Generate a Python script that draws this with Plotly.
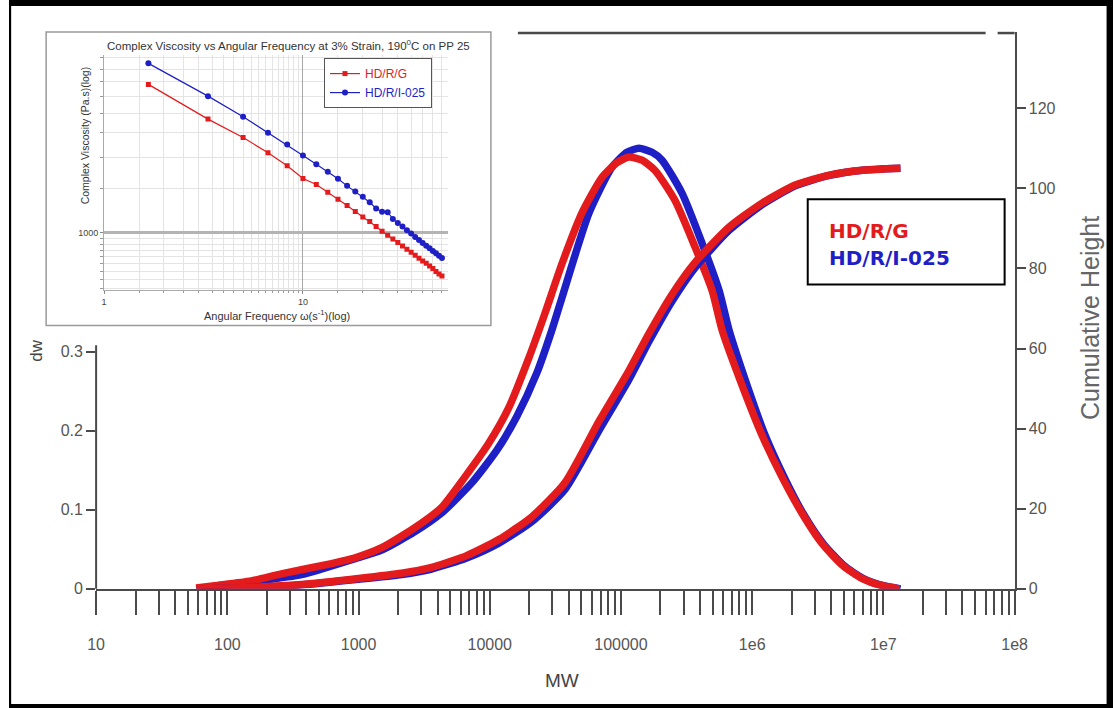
import plotly.graph_objects as go

# Layout is designed in screen pixels of the 1113 x 708 page; the helpers below map
# those positions onto the figure, which sits inside the page body margin.
SX, SY = 0.981, 0.986
M = 8
W = round(1113 / SX - M)
H = round(708 / SY)


def px(x):
    return (x / SX - M) / W


def py(y):
    return 1 - (y / SY) / H


RED = "#e41b1d"
BLUE = "#1f1fc6"
AXIS = "#4a4a4a"
SANS = "Liberation Sans, Arial, sans-serif"

# ---------------- molecular weight distribution ----------------
mw_dw_red = [58, 80, 152, 258, 622, 931, 1500, 2670, 4300, 6440, 9820, 13960, 19860,
             26300, 35500, 50350, 71600, 93100, 115100, 144500, 182000, 258200, 367300,
             495500, 590200, 839500, 1191000, 1694000, 2410000, 3420000, 4864000,
             6918000, 9817000, 13240000]
dw_red = [0.001, 0.004, 0.010, 0.019, 0.032, 0.039, 0.052, 0.077, 0.103, 0.141, 0.184,
          0.229, 0.292, 0.348, 0.411, 0.475, 0.520, 0.539, 0.546, 0.542, 0.529, 0.491,
          0.432, 0.377, 0.327, 0.257, 0.194, 0.141, 0.095, 0.057, 0.030, 0.013, 0.004,
          0.000]

mw_dw_blue = [58, 152, 367, 931, 1500, 2670, 4300, 7290, 11300, 16070, 22860, 29720,
              35480, 57020, 85310, 111200, 137100, 172600, 205600, 292400, 415000,
              559800, 666800, 916200, 1256000, 1754000, 2449000, 3483000, 4955000,
              7031000, 10000000, 13490000]
dw_blue = [0.000, 0.009, 0.018, 0.038, 0.049, 0.072, 0.096, 0.134, 0.175, 0.218, 0.273,
           0.327, 0.368, 0.475, 0.533, 0.552, 0.557, 0.552, 0.542, 0.500, 0.437, 0.377,
           0.327, 0.257, 0.194, 0.141, 0.095, 0.057, 0.030, 0.013, 0.004, 0.000]

mw_cum = [63, 152, 367, 1000, 2128, 3548, 6668, 11720, 20940, 37410, 67920, 115100,
          163700, 244900, 367300, 666800, 1191000, 2128000, 3873000, 6918000, 13490000]
cum_red = [0, 0.4, 1.1, 2.6, 3.9, 5.3, 8.3, 12.3, 18, 26.5, 41.8, 54.5, 63.8, 73.5,
           81.5, 90.3, 96.3, 100.8, 103.3, 104.5, 105]
cum_blue = [0, 0.35, 1.0, 2.4, 3.6, 4.9, 7.7, 11.4, 16.8, 24.8, 39.5, 52.3, 61.8, 71.8,
            80.2, 89.5, 95.9, 100.6, 103.2, 104.5, 105]

mw_tickvals = [10, 100, 1000, 1e4, 1e5, 1e6, 1e7, 1e8]
mw_ticktext = ["10", "100", "1000", "10000", "100000", "1e6", "1e7", "1e8"]
dw_tickvals = [0, 0.1, 0.2, 0.3]
dw_ticktext = ["0", "0.1", "0.2", "0.3"]
cum_tickvals = [0, 20, 40, 60, 80, 100, 120]

# ---------------- inset: complex viscosity sweep ----------------
omega = [1.67, 3.33, 5.0, 6.67, 8.33, 10.0, 11.67, 13.33, 15.0, 16.67, 18.33, 20.0,
         21.67, 23.33, 25.0, 26.67, 28.33, 30.0, 31.67, 33.33, 35.0, 36.67, 38.33,
         40.0, 41.67, 43.33, 45.0, 46.67, 48.33, 50.0]
eta_red = [3908, 2840, 2399, 2083, 1848, 1645, 1556, 1450, 1359, 1282, 1213, 1155,
           1107, 1057, 1012, 976, 943, 912, 884, 858, 834, 812, 789, 770, 754, 736,
           718, 700, 684, 671]
eta_blue = [4742, 3508, 2904, 2505, 2249, 2032, 1876, 1749, 1640, 1537, 1459, 1389,
            1322, 1248, 1210, 1206, 1134, 1093, 1057, 1022, 991, 961, 935, 909, 887,
            866, 845, 827, 809, 792]

omega_minor = [1.5, 2, 2.5, 3, 3.5, 4, 4.5, 5, 5.5, 6, 6.5, 7, 7.5, 8, 8.5, 9, 9.5,
               15, 20, 25, 30, 35, 40, 45, 50]
eta_minor = [600, 650, 700, 750, 800, 850, 900, 950, 1500, 2000, 2500, 3000, 3500,
             4000, 4500, 5000]

fig = go.Figure()

curve = dict(width=7.5, shape="spline", smoothing=0.6)

# blue underneath, red on top
fig.add_trace(go.Scatter(x=mw_dw_blue, y=dw_blue, mode="lines",
                         line=dict(color=BLUE, **curve),
                         xaxis="x", yaxis="y", showlegend=False))
fig.add_trace(go.Scatter(x=mw_cum, y=cum_blue, mode="lines",
                         line=dict(color=BLUE, **curve),
                         xaxis="x", yaxis="y2", showlegend=False))
fig.add_trace(go.Scatter(x=mw_dw_red, y=dw_red, mode="lines",
                         line=dict(color=RED, **curve),
                         xaxis="x", yaxis="y", showlegend=False))
fig.add_trace(go.Scatter(x=mw_cum, y=cum_red, mode="lines",
                         line=dict(color=RED, **curve),
                         xaxis="x", yaxis="y2", showlegend=False))

# inset traces
fig.add_trace(go.Scatter(x=omega, y=eta_red, mode="lines+markers",
                         name="<span style='color:%s'>HD/R/G</span>" % RED,
                         line=dict(color=RED, width=1.2),
                         marker=dict(symbol="square", size=5, color=RED),
                         xaxis="x3", yaxis="y3"))
fig.add_trace(go.Scatter(x=omega, y=eta_blue, mode="lines+markers",
                         name="<span style='color:%s'>HD/R/I-025</span>" % BLUE,
                         line=dict(color=BLUE, width=1.2),
                         marker=dict(symbol="circle", size=6, color=BLUE),
                         xaxis="x3", yaxis="y3"))

tick_font = dict(family=SANS, size=16, color="#555")

fig.update_layout(
    width=W, height=H,
    margin=dict(l=0, r=0, t=0, b=0),
    paper_bgcolor="white",
    plot_bgcolor="rgba(0,0,0,0)",
    showlegend=True,
    legend=dict(x=px(323), y=py(58), xanchor="left", yanchor="top",
                bgcolor="white", bordercolor="#555", borderwidth=1,
                font=dict(family=SANS, size=12), itemwidth=30, tracegroupgap=0),
    xaxis=dict(type="log", domain=[px(95), px(1014)], range=[1, 8.0], anchor="y",
               tickvals=mw_tickvals, ticktext=mw_ticktext, tickfont=tick_font,
               ticks="outside", ticklen=24, tickwidth=1.5, tickcolor=AXIS,
               ticklabelstandoff=16,
               minor=dict(dtick="D1", ticks="outside", ticklen=24, tickwidth=1.5,
                          tickcolor=AXIS),
               showline=True, linecolor=AXIS, linewidth=2, showgrid=False,
               zeroline=False),
    yaxis=dict(domain=[py(588), py(32)], range=[0, 0.704], anchor="x",
               tickvals=dw_tickvals, ticktext=dw_ticktext, tickfont=tick_font,
               ticks="outside", ticklen=9, tickwidth=2, tickcolor=AXIS,
               showline=False, showgrid=False, zeroline=False),
    yaxis2=dict(overlaying="y", side="right", anchor="x", range=[0, 139],
                tickvals=cum_tickvals, tickfont=tick_font,
                ticks="outside", ticklen=9, tickwidth=2, tickcolor=AXIS,
                showline=True, linecolor=AXIS, linewidth=2, showgrid=False,
                zeroline=False),
    xaxis3=dict(type="log", domain=[px(103), px(447)], range=[0, 1.729], anchor="y3",
                tickvals=[1, 10], ticktext=["1", "10"],
                tickfont=dict(family=SANS, size=9, color="#444"),
                ticks="outside", ticklen=3, tickcolor="#888",
                showgrid=True, gridcolor="#a8a8a8", gridwidth=1,
                minor=dict(tickvals=omega_minor, ticks="outside", ticklen=2,
                           tickcolor="#999", showgrid=True, gridcolor="#e4e4e4",
                           gridwidth=1),
                showline=True, linecolor="#aaa", linewidth=1, zeroline=False),
    yaxis3=dict(type="log", domain=[py(290), py(55)], range=[2.769, 3.709], anchor="x3",
                tickvals=[1000], ticktext=["1000"],
                tickfont=dict(family=SANS, size=9, color="#444"),
                ticks="outside", ticklen=3, tickcolor="#888",
                showgrid=True, gridcolor="#b4b4b4", gridwidth=2.5,
                minor=dict(tickvals=eta_minor, ticks="outside", ticklen=3,
                           tickcolor="#999", showgrid=True, gridcolor="#e4e4e4",
                           gridwidth=1),
                showline=True, linecolor="#aaa", linewidth=1, zeroline=False),
)

shapes = [
    # inset panel
    dict(type="rect", xref="paper", yref="paper", x0=px(45), x1=px(490), y0=py(325),
         y1=py(32), line=dict(color="#9a9a9a", width=1.5), fillcolor="white",
         layer="below"),
    # partial left axis line of the distribution plot
    dict(type="line", xref="paper", yref="y", x0=px(95), x1=px(95), y0=0, y1=0.308,
         line=dict(color=AXIS, width=2)),
    # top frame segments
    dict(type="line", xref="paper", yref="paper", x0=px(517), x1=px(985), y0=py(33),
         y1=py(33), line=dict(color=AXIS, width=2.5)),
    dict(type="line", xref="paper", yref="paper", x0=px(997), x1=px(1014), y0=py(33),
         y1=py(33), line=dict(color=AXIS, width=2.5)),
    # legend frame for the distribution curves
    dict(type="rect", xref="paper", yref="paper", x0=px(807), x1=px(1004), y0=py(284),
         y1=py(199), line=dict(color="black", width=2), fillcolor="white"),
    # black frame around the figure
    dict(type="rect", xref="paper", yref="paper", x0=0, x1=px(10), y0=0, y1=1,
         line=dict(width=0), fillcolor="black"),
    dict(type="rect", xref="paper", yref="paper", x0=0, x1=1, y0=py(6), y1=1,
         line=dict(width=0), fillcolor="black"),
    dict(type="rect", xref="paper", yref="paper", x0=px(1106), x1=1, y0=0, y1=1,
         line=dict(width=0), fillcolor="black"),
    dict(type="rect", xref="paper", yref="paper", x0=0, x1=1, y0=0, y1=py(703),
         line=dict(width=0), fillcolor="black"),
]
fig.update_layout(shapes=shapes)


def note(text, x, y, size, color, family=SANS, angle=0, xanchor="center"):
    return dict(text=text, x=px(x), y=py(y), xref="paper", yref="paper",
                xanchor=xanchor, yanchor="middle", textangle=angle,
                showarrow=False, font=dict(family=family, size=size, color=color))


BOLD = "DejaVu Sans, Verdana, sans-serif"
annotations = [
    note("MW", 561, 679, 19, "#444"),
    note("dw", 35, 350, 17, "#444", angle=-90),
    note("Cumulative Height", 1090, 318, 25, "#666", angle=-90),
    note("<b>HD/R/G</b>", 826, 231, 20, RED, family=BOLD, xanchor="left"),
    note("<b>HD/R/I-025</b>", 826, 258, 20, BLUE, family=BOLD, xanchor="left"),
    note("Complex Viscosity vs Angular Frequency at 3% Strain, 190<sup>0</sup>C on PP 25",
         287, 45, 11.5, "#333"),
    note("Complex Viscosity (Pa.s)(log)", 84, 135, 10.5, "#333", angle=-90),
    note("Angular Frequency \u03c9(s<sup>-1</sup>)(log)", 276, 315, 11, "#333"),
]
fig.update_layout(annotations=annotations)

fig.write_html("out.html")
